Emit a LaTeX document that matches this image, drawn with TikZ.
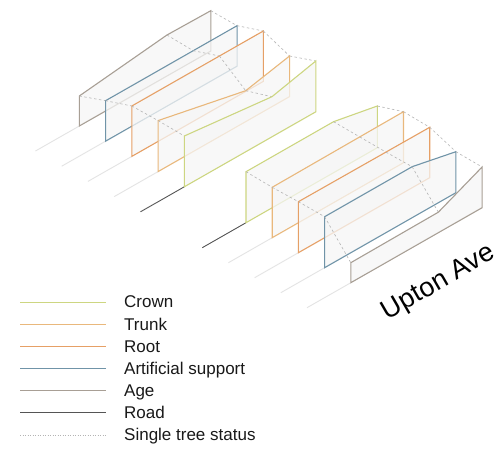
\documentclass[tikz,border=0pt]{standalone}
\usepackage{fontspec}
\setmainfont{Liberation Sans}
\definecolor{crownc}{HTML}{CDD681}
\definecolor{trunkc}{HTML}{E9B87C}
\definecolor{rootc}{HTML}{E6A066}
\definecolor{artc}{HTML}{7094A8}
\definecolor{agec}{HTML}{A89F95}
\definecolor{roadc}{HTML}{555555}
\definecolor{extc}{HTML}{E4E4E4}
\definecolor{tsc}{HTML}{B4B4B4}
\definecolor{panfill}{HTML}{F6F6F6}
\newcommand\defpanel[8]{%
  \coordinate (#1BL) at (#2,#3);
  \coordinate (#1BR) at ({#2+#4},{#3+#5});
  \coordinate (#1TR) at ({#2+#4},{#3+#5-#8});
  \coordinate (#1TK) at ({#2+2*#4/3},{#3+2*#5/3-#7});
  \coordinate (#1TL) at (#2,{#3-#6});
  \coordinate (#1E) at ({#2-#4/3},{#3-#5/3});
}
\newcommand\drawpanel[2]{\draw[pan,draw=#2] (#1BL) -- (#1BR) -- (#1TR) -- (#1TK) -- (#1TL) -- cycle;}
\newcommand\dashlink[2]{\draw[tsd] (#1TL) -- (#2TL) (#1TK) -- (#2TK) (#1TR) -- (#2TR);}
\begin{document}
\begin{tikzpicture}[x=1pt,y=-1pt,
  pan/.style={line width=1.1pt, fill=panfill, fill opacity=0.75, line join=miter},
  tsd/.style={draw=tsc, line width=0.6pt, dash pattern=on 2.5pt off 2.5pt},
  ext/.style={draw=extc, line width=0.9pt},
  roadl/.style={draw=roadc, line width=0.9pt},
  leg/.style={line width=0.9pt},
  legt/.style={anchor=base west, font=\fontsize{17}{17}\selectfont, inner sep=0pt, text=black!90},
]
\useasboundingbox[fill=white] (0,0) rectangle (503,450);

% ---- group 1 (upper left) ----
\defpanel{a0}{79.3}{126}{131.5}{-75}{30}{41}{40.3}
\defpanel{a1}{105.55}{141.2}{131.5}{-75}{40.5}{40.5}{40.5}
\defpanel{a2}{131.8}{156.4}{131.5}{-75}{50.4}{50.4}{50.4}
\defpanel{a3}{158.05}{171.6}{131.5}{-75}{51}{30.9}{40.6}
\defpanel{a4}{184.3}{186.8}{131.5}{-75}{50.8}{40.1}{50.8}

% ---- group 2 (lower right) ----
\defpanel{b0}{246}{222.7}{131.3}{-75}{51}{51}{41.7}
\defpanel{b1}{272.2}{237.7}{131.3}{-75}{50.4}{50.8}{51}
\defpanel{b2}{298.4}{252.7}{131.3}{-75}{51}{50.6}{50.4}
\defpanel{b3}{324.6}{267.7}{131.3}{-75}{51}{51}{41}
\defpanel{b4}{350.8}{282.7}{131.3}{-75}{20}{20.5}{40.7}

% extensions of the bottom edges
\draw[ext] (a0BL) -- (a0E);
\draw[ext] (a1BL) -- (a1E);
\draw[ext] (a2BL) -- (a2E);
\draw[ext] (a3BL) -- (a3E);
\draw[roadl] (a4BL) -- (a4E);
\draw[roadl] (b0BL) -- (b0E);
\draw[ext] (b1BL) -- (b1E);
\draw[ext] (b2BL) -- (b2E);
\draw[ext] (b3BL) -- (b3E);
\draw[ext] (b4BL) -- (b4E);

% panels, back to front
\drawpanel{a0}{agec}
\dashlink{a0}{a1}
\drawpanel{a1}{artc}
\dashlink{a1}{a2}
\drawpanel{a2}{rootc}
\dashlink{a2}{a3}
\drawpanel{a3}{trunkc}
\dashlink{a3}{a4}
\drawpanel{a4}{crownc}

\drawpanel{b0}{crownc}
\dashlink{b0}{b1}
\drawpanel{b1}{trunkc}
\dashlink{b1}{b2}
\drawpanel{b2}{rootc}
\dashlink{b2}{b3}
\drawpanel{b3}{artc}
\dashlink{b3}{b4}
\drawpanel{b4}{agec}

% street name
\node[font=\fontsize{27}{27}\selectfont, rotate=30, inner sep=0pt] (street) at (439,283) {Upton Ave};

% legend
\foreach \i/\y/\c/\t in {1/302.3/crownc/Crown, 2/324.5/trunkc/Trunk, 3/346.7/rootc/Root,
  4/368.6/artc/Artificial support, 5/390.7/agec/Age, 6/412.8/roadc/Road} {
  \coordinate (la\i) at (20,\y);
  \coordinate (lb\i) at (106,\y);
  \draw[leg,draw=\c] (la\i) -- (lb\i);
  \node[legt] (lt\i) at (124,\y+5.6) {\t};
}
\coordinate (la7) at (20,435);
\coordinate (lb7) at (106,435);
\draw[draw=tsc, line width=0.6pt, dash pattern=on 1pt off 1.5pt] (la7) -- (lb7);
\node[legt] (lt7) at (124,440.6) {Single tree status};
\end{tikzpicture}
\end{document}
